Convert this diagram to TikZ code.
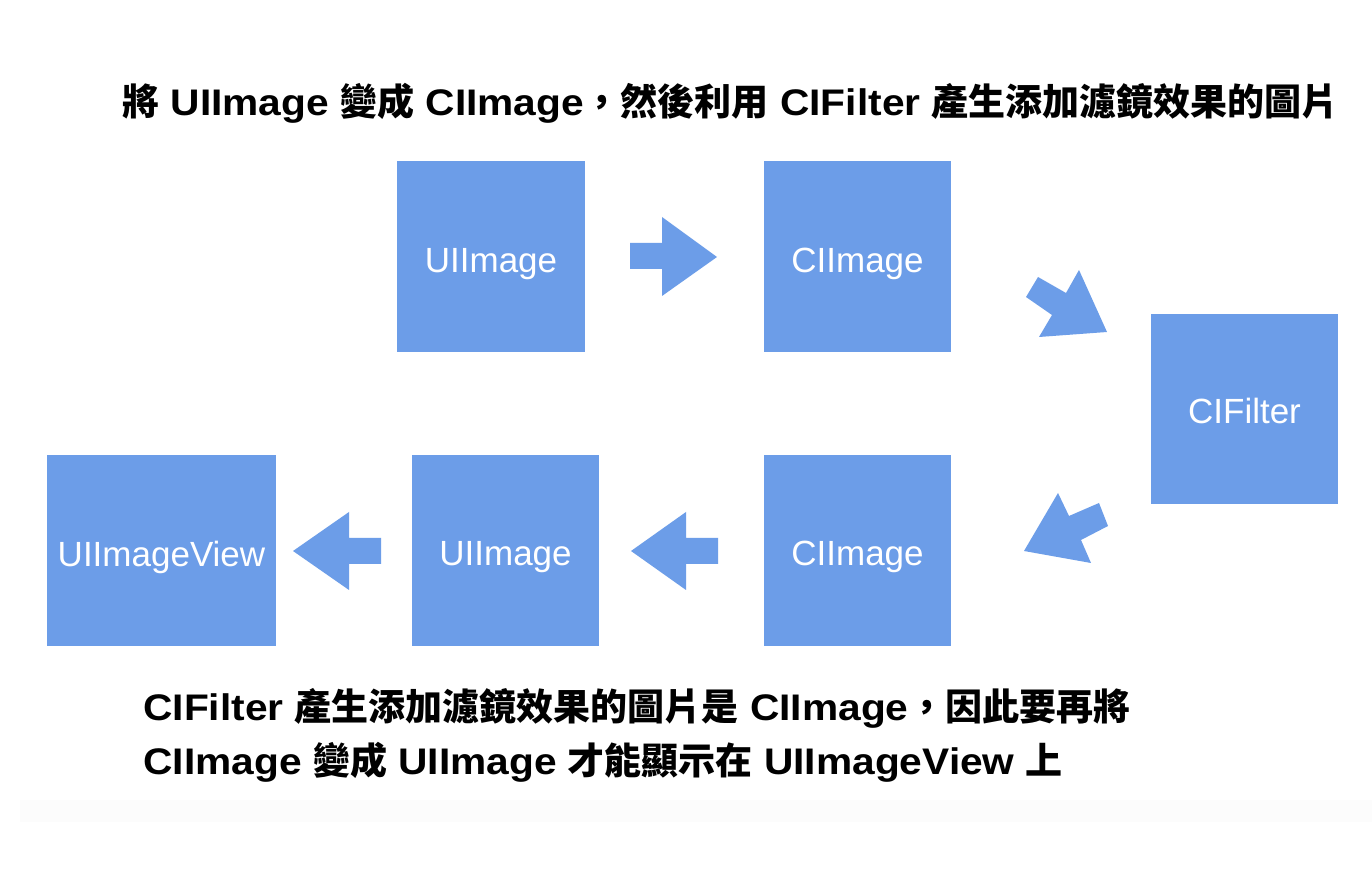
\documentclass[tikz,border=0pt]{standalone}
\usepackage{fontspec}
\setmainfont{Liberation Sans}
\newfontfamily\capfont{Liberation Sans}[FakeStretch=1.1]
\newfontfamily\cjk{Noto Sans CJK TC}
\definecolor{boxblue}{RGB}{108,157,232}
\begin{document}
\begin{tikzpicture}[x=0.5pt,y=-0.5pt,
  blk/.style={fill=boxblue, draw=none, inner sep=0, text=white, text depth=0pt, font=\fontsize{17.5}{20}\selectfont},
  arr/.style={fill=boxblue, draw=none},
  caption/.style={anchor=base west, inner sep=0, font=\fontsize{18.5}{22}\selectfont\capfont\bfseries}]
\useasboundingbox (0,0) rectangle (1372,886);
\fill[white] (0,0) rectangle (1372,886);
\fill[black!1] (20,800) rectangle (1372,822);
% boxes
\node[blk, minimum width=94pt, minimum height=95.5pt] (ui1) at (491,256.5) {};
\node[blk, minimum width=93.5pt, minimum height=95.5pt] (ci1) at (857.5,256.5) {};
\node[blk, minimum width=93.5pt, minimum height=95pt] (cf) at (1244.5,409) {};
\node[blk, minimum width=93.5pt, minimum height=95.5pt] (ci2) at (857.5,550.5) {};
\node[blk, minimum width=93.5pt, minimum height=95.5pt] (ui2) at (505.5,550.5) {};
\node[blk, minimum width=114.5pt, minimum height=95.5pt] (uiv) at (161.5,550.5) {};
% box labels
\node[blk, fill=none] (lui1) at ([yshift=-1.8pt]ui1.center) {UIImage};
\node[blk, fill=none] (lci1) at ([yshift=-1.8pt]ci1.center) {CIImage};
\node[blk, fill=none] (lcf) at ([yshift=-1pt]cf.center) {CIFilter};
\node[blk, fill=none] (lci2) at ([yshift=-1.5pt]ci2.center) {CIImage};
\node[blk, fill=none] (lui2) at ([yshift=-1.5pt]ui2.center) {UIImage};
\node[blk, fill=none] (luiv) at ([yshift=-1.5pt]uiv.center) {UIImageView};
% block arrows
\fill[arr] (630,243) -- (662,243) -- (662,217) -- (717,257) -- (662,296) -- (662,269) -- (630,269) -- cycle;
\fill[arr] (1026,297) -- (1038,277) -- (1066,293) -- (1079,270) -- (1107,332) -- (1039,337) -- (1052,315) -- cycle;
\fill[arr] (1024,551) -- (1058,493) -- (1069,516) -- (1099,503) -- (1108,526) -- (1081,540) -- (1091,563) -- cycle;
\fill[arr] (718,538) -- (686,538) -- (686,512) -- (631,551) -- (686,590) -- (686,564) -- (718,564) -- cycle;
\fill[arr] (381,538) -- (349,538) -- (349,512) -- (293,551) -- (349,590) -- (349,564) -- (381,564) -- cycle;
% captions
\node[caption] (t1) at (122,116) {{\cjk 將} UIImage {\cjk 變成} CIImage{\cjk ，然後利用} CIFilter {\cjk 產生添加濾鏡效果的圖片}};
\node[caption] (t2) at (143,721) {CIFilter {\cjk 產生添加濾鏡效果的圖片是} CIImage{\cjk ，因此要再將}};
\node[caption] (t3) at (143,775) {CIImage {\cjk 變成} UIImage {\cjk 才能顯示在} UIImageView {\cjk 上}};
\end{tikzpicture}
\end{document}
